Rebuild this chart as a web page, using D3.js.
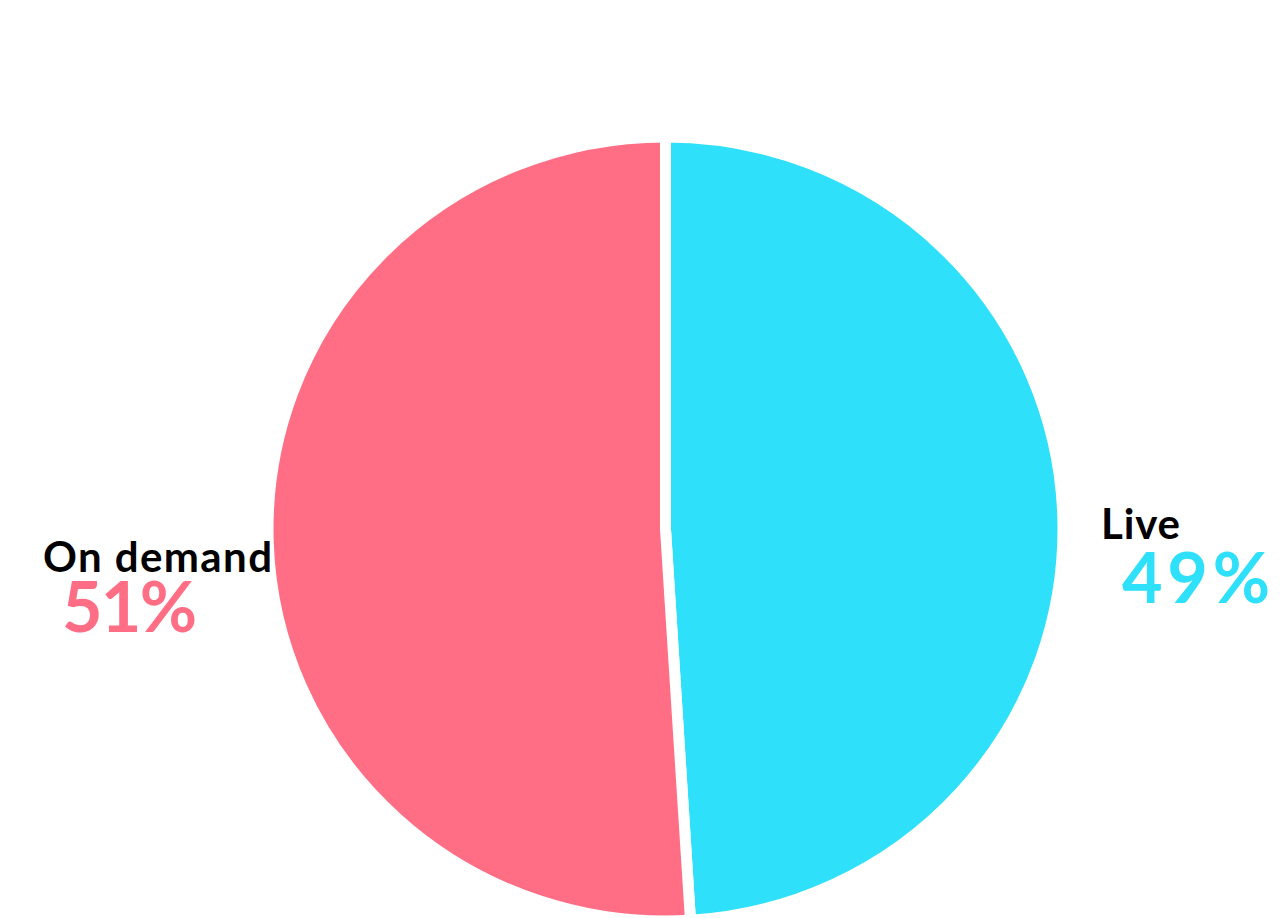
<!DOCTYPE html>
<html>
<head>
<meta charset="utf-8">
<script src="https://cdn.jsdelivr.net/npm/d3@7"></script>
<style>
  html, body { margin: 0; padding: 0; background: #ffffff; }
  svg { display: block; }
</style>
</head>
<body>
<svg id="chart" width="1281" height="918"></svg>
<script>
const categories = ["Live", "On demand"];
const values = [49, 51];
const colors = ["#2EE0F9", "#FF6E84"];
const pctLabels = ["49%", "51%"];

const W = 1281, H = 918;
const cx = 665.5, cy = 529, rx = 397.5, ry = 392;
const svg = d3.select("#chart");

svg.append("defs").append("clipPath").attr("id", "clip")
  .append("rect").attr("x", 0).attr("y", 0).attr("width", 1268).attr("height", H);

const root = svg.append("g").attr("clip-path", "url(#clip)");

const pie = d3.pie().sort(null).value(d => d.v);
const arcs = pie(categories.map((c, i) => ({ c, v: values[i], col: colors[i] })));
const arc = d3.arc().innerRadius(0).outerRadius(rx);

root.append("g")
  .attr("transform", `translate(${cx},${cy}) scale(1,${(ry/rx).toFixed(4)})`)
  .selectAll("path").data(arcs).join("path")
  .attr("d", arc)
  .attr("fill", d => d.data.col)
  .attr("stroke", "#ffffff")
  .attr("stroke-width", 11)
  .attr("stroke-linejoin", "round");

const font = "Lato, 'Noto Sans', sans-serif";
// Label layout: [name x, name y, name width, pct x, pct y, pct width]
const pos = {
  "Live": [1101, 539, 79, 1122, 603, 148],
  "On demand": [43, 572, 229, 62, 632, 135]
};
categories.forEach((c, i) => {
  const p = pos[c];
  root.append("text").attr("x", p[0]).attr("y", p[1])
    .attr("font-family", font).attr("font-weight", 700).attr("font-size", 42)
    .attr("textLength", p[2]).attr("lengthAdjust", "spacing")
    .attr("fill", "#000").text(c);
  root.append("text").attr("x", p[3]).attr("y", p[4])
    .attr("font-family", font).attr("font-weight", 700).attr("font-size", 70)
    .attr("textLength", p[5]).attr("lengthAdjust", "spacing")
    .attr("fill", colors[i]).text(pctLabels[i]);
});
</script>
</body>
</html>
